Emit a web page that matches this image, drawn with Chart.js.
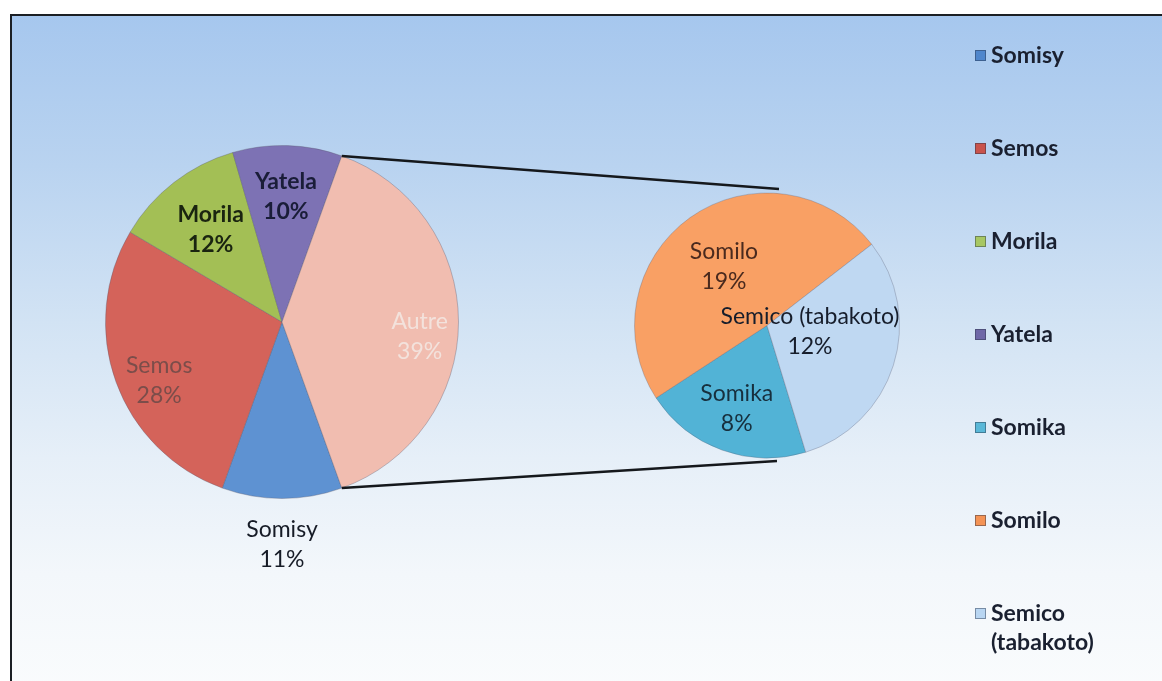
<!DOCTYPE html>
<html>
<head>
<meta charset="utf-8">
<script src="https://cdn.jsdelivr.net/npm/chart.js@4.4.1/dist/chart.umd.min.js"></script>
<style>
  html,body{margin:0;padding:0;background:#fff;}
  #wrap{position:relative;width:1162px;height:681px;overflow:hidden;background:#fff;}
  #frame{position:absolute;left:10px;top:14px;width:1160px;height:680px;
    border-top:2px solid #1b1f24;border-left:2px solid #1b1f24;
    background:linear-gradient(to bottom,#a6c7ee 0%,#b9d3f0 22%,#d2e3f4 45%,#e6eff8 65%,#f3f7fb 82%,#fafcfd 100%);}
  canvas{position:absolute;left:0;top:0;}
  .lg{position:absolute;left:975px;font-family:Lato,"Liberation Sans",sans-serif;font-weight:700;font-size:23px;color:#1a2030;line-height:29px;}
  .lg span.sw{position:absolute;left:0;top:10px;width:9px;height:9px;border:1px solid rgba(40,50,70,0.45);}
  .lg span.tx{display:block;margin-left:16px;}
</style>
</head>
<body>
<div id="wrap">
  <div id="frame"></div>
  <canvas id="c1" width="1162" height="681"></canvas>
  <canvas id="c2" width="1162" height="681"></canvas>
  <div id="legend"></div>
</div>
<script>
// ---- data ----
const mainLabels = ["Somisy", "Semos", "Morila", "Yatela", "Autre"];
const mainValues = [11, 28, 12, 10, 39];
const mainColors = ["#5e92d2", "#d4635a", "#a3bf55", "#7d72b4", "#f1bdb0"];
const subLabels = ["Somika", "Somilo", "Semico (tabakoto)"];
const subValues = [8, 19, 12];
const subColors = ["#52b3d6", "#f9a064", "#bfd8f2"];
const legendLabels = ["Somisy", "Semos", "Morila", "Yatela", "Somika", "Somilo", "Semico\n(tabakoto)"];
const legendColors = ["#4f86cc", "#c9534c", "#a7c763", "#6f68a8", "#5ab8d8", "#f49355", "#b9d6f2"];

// ---- styles for the slice labels ----
const mainLabelStyle = {
  radius: [1.26, 0.74, 0.66, 0.71, 0.78],
  dy: [0, 14, 0, 0, 15],
  color: ["#161b26", "#7b4d4a", "#1a2410", "#1a1d38", "#f3e2dc"],
  weight: ["normal", "normal", "bold", "bold", "normal"]
};
const subLabelStyle = {
  radius: [0.67, 0.56, 0.34],
  dy: [0, 2, -8],
  color: ["#172f3d", "#4a2a1e", "#161d2b"],
  weight: ["normal", "normal", "normal"]
};

const FONT_FAMILY = 'Lato, "Liberation Sans", sans-serif';

function labelPlugin(labels, values, st, id) {
  return {
    id: id,
    afterDatasetsDraw(chart) {
      const ctx = chart.ctx;
      const meta = chart.getDatasetMeta(0);
      ctx.save();
      ctx.textAlign = 'center';
      ctx.textBaseline = 'middle';
      meta.data.forEach((arc, i) => {
        const p = arc.getProps(['x', 'y', 'startAngle', 'endAngle', 'outerRadius'], true);
        const mid = (p.startAngle + p.endAngle) / 2;
        const d = p.outerRadius * st.radius[i];
        const x = p.x + Math.cos(mid) * d;
        const y = p.y + Math.sin(mid) * d + st.dy[i];
        ctx.font = st.weight[i] + ' 23px ' + FONT_FAMILY;
        ctx.fillStyle = st.color[i];
        ctx.fillText(labels[i], x, y - 15);
        ctx.fillText(values[i] + '%', x, y + 15);
      });
      ctx.restore();
    }
  };
}

const common = {
  responsive: false,
  animation: false,
  events: [],
  plugins: { legend: { display: false }, tooltip: { enabled: false } }
};

const mainChart = new Chart(document.getElementById('c1'), {
  type: 'pie',
  data: {
    labels: mainLabels,
    datasets: [{ data: mainValues, backgroundColor: mainColors, borderColor: 'rgba(90,90,110,0.35)', borderWidth: 1 }]
  },
  options: Object.assign({}, common, {
    rotation: 160.2,
    layout: { padding: { left: 105, right: 703, top: 145, bottom: 182 } }
  }),
  plugins: [labelPlugin(mainLabels, mainValues, mainLabelStyle, 'mainLabels')]
});

const connectorPlugin = {
  id: 'connector',
  afterDraw(chart) {
    const autre = mainChart.getDatasetMeta(0).data[mainLabels.indexOf('Autre')];
    const a = autre.getProps(['x', 'y', 'startAngle', 'endAngle', 'outerRadius'], true);
    const first = chart.getDatasetMeta(0).data[0].getProps(['x', 'y', 'outerRadius'], true);
    const ctx = chart.ctx;
    ctx.save();
    ctx.strokeStyle = '#15181c';
    ctx.lineWidth = 2.5;
    ctx.beginPath();
    ctx.moveTo(a.x + Math.cos(a.startAngle) * a.outerRadius, a.y + Math.sin(a.startAngle) * a.outerRadius);
    ctx.lineTo(first.x + 12, first.y - first.outerRadius - 4);
    ctx.moveTo(a.x + Math.cos(a.endAngle) * a.outerRadius, a.y + Math.sin(a.endAngle) * a.outerRadius);
    ctx.lineTo(first.x + 10, first.y + first.outerRadius + 3);
    ctx.stroke();
    ctx.restore();
  }
};

const subChart = new Chart(document.getElementById('c2'), {
  type: 'pie',
  data: {
    labels: subLabels,
    datasets: [{ data: subValues, backgroundColor: subColors, borderColor: 'rgba(90,90,110,0.3)', borderWidth: 1 }]
  },
  options: Object.assign({}, common, {
    rotation: 163,
    layout: { padding: { left: 634, right: 262, top: 190, bottom: 220 } }
  }),
  plugins: [labelPlugin(subLabels, subValues, subLabelStyle, 'subLabels'), connectorPlugin]
});

// ---- legend ----
const lg = document.getElementById('legend');
legendLabels.forEach((t, i) => {
  const d = document.createElement('div');
  d.className = 'lg';
  d.style.top = (40 + i * 93) + 'px';
  const sw = document.createElement('span');
  sw.className = 'sw';
  sw.style.background = legendColors[i];
  const tx = document.createElement('span');
  tx.className = 'tx';
  tx.innerHTML = t.replace('\n', '<br>');
  d.appendChild(sw);
  d.appendChild(tx);
  lg.appendChild(d);
});
</script>
</body>
</html>
